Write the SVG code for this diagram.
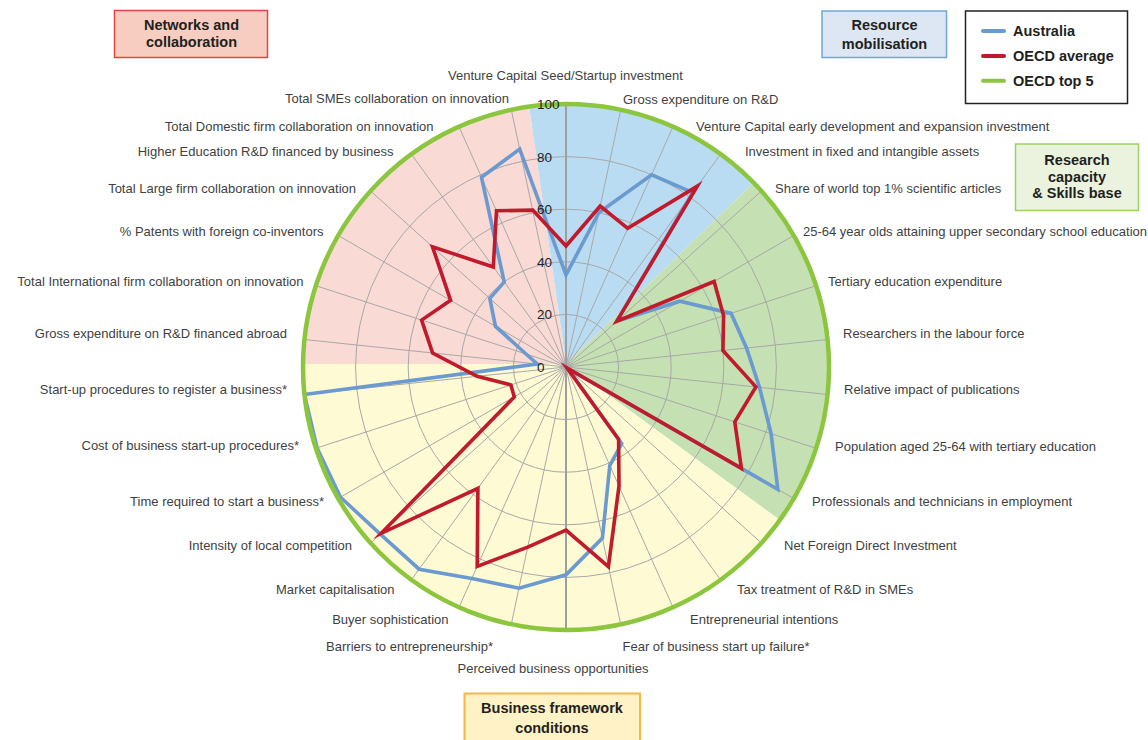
<svg xmlns="http://www.w3.org/2000/svg" width="1148" height="740" viewBox="0 0 1148 740">
<style>
.lbl{font-family:"Liberation Sans",Arial,sans-serif;font-size:13px;fill:#3f3f3f}
.end{text-anchor:end}
.mid{text-anchor:middle}
.num{font-family:"Liberation Sans",Arial,sans-serif;font-size:13.5px;fill:#222}
.box{font-family:"Liberation Sans",Arial,sans-serif;font-size:14.5px;font-weight:bold;fill:#231f20;text-anchor:middle}
.leg{font-family:"Liberation Sans",Arial,sans-serif;font-size:14.5px;font-weight:bold;fill:#231f20}
.grid{fill:none;stroke:#a8a8a8;stroke-width:1}
.ser{fill:none;stroke-width:3.6;stroke-linejoin:miter;stroke-miterlimit:10}
</style>
<defs>
<clipPath id="disc"><circle cx="566" cy="367" r="263"/></clipPath>
</defs>
<rect width="1148" height="740" fill="#ffffff"/>
<g id="sectors" clip-path="url(#disc)">
<path d="M566,364 L523.4,67 A300,300 0 0 1 781.8,155.6 Z" fill="#b9dcf2"/>
<path d="M566,364 L781.8,155.6 A300,300 0 0 1 808.3,540.8 Z" fill="#c5e0b2"/>
<path d="M566,364 L808.3,540.8 A300,300 0 0 1 266,364 Z" fill="#fefad3"/>
<path d="M566,364 L266,364 A300,300 0 0 1 523.4,67 Z" fill="#fadad4"/>
</g>
<g id="grid">
<circle class="grid" cx="566" cy="367" r="52.6"/>
<circle class="grid" cx="566" cy="367" r="105.2"/>
<circle class="grid" cx="566" cy="367" r="157.8"/>
<circle class="grid" cx="566" cy="367" r="210.4"/>
<path class="grid" d="M566,367L620.7,109.8M566,367L673,126.7M566,367L720.6,154.2M566,367L761.4,191M566,367L793.8,235.5M566,367L816.1,285.7M566,367L827.6,339.5M566,367L827.6,394.5M566,367L816.1,448.3M566,367L793.8,498.5M566,367L761.4,543M566,367L720.6,579.8M566,367L673,607.3M566,367L620.7,624.2M566,367L511.3,624.2M566,367L459,607.3M566,367L411.4,579.8M566,367L370.6,543M566,367L338.2,498.5M566,367L315.9,448.3M566,367L304.4,394.5M566,367L304.4,339.5M566,367L315.9,285.7M566,367L338.2,235.5M566,367L370.6,191M566,367L411.4,154.2M566,367L459,126.7M566,367L511.3,109.8"/>
<path d="M566,104V630" stroke="#9e9e9e" stroke-width="2" fill="none"/>
</g>
<g id="connectors">
<polygon id="australia" class="ser" stroke="#6a9ad0" points="566,274.9 598.8,212.7 651.6,174.8 692.8,192.5 616.8,321.2 679.9,301.2 731.1,313.4 746.5,348 759.5,387.3 771.1,433.7 777.8,489.3 568,368.8 621.7,443.6 609.8,465.5 602.4,538.1 566,574.8 519,588.2 471.9,578.4 419.1,569.2 380.3,534.2 340.5,497.2 317.1,447.9 304.4,394.5 537.3,364 526,354 495.4,326.2 489.8,298.4 504.2,281.9 481.5,177.2 519.7,149.1"/>
<polygon id="oecd-average" class="ser" stroke="#c01a2c" points="566,246 600.2,206 627.7,228.4 697.4,186.1 616.8,321.2 714.1,281.5 723.6,315.8 722.9,350.5 755.9,386.9 734.8,421.9 741.4,468.3 567,368 618.6,439.3 619,486.1 608.4,566.6 566,530.1 527.7,547.1 477.2,566.4 477.9,488.3 381.3,533.3 514.3,396.9 510.9,384.9 477.1,376.3 432.6,353 421.6,320.1 450.6,300.3 432.5,246.8 493.3,267 496.5,210.8 532.7,210.1"/>
<circle id="oecd-top5" cx="566" cy="367" r="263" fill="none" stroke="#8cc63f" stroke-width="4.5"/>
</g>
<g id="scale">
<text class="num" x="537" y="108.7">100</text>
<text class="num" x="537" y="161.5">80</text>
<text class="num" x="537" y="214">60</text>
<text class="num" x="537" y="266.5">40</text>
<text class="num" x="537" y="319">20</text>
<text class="num" x="537" y="371.7">0</text>
</g>
<g id="axis-labels">
<text class="lbl mid" x="565.5" y="79.5">Venture Capital Seed/Startup investment</text>
<text class="lbl" x="623" y="104">Gross expenditure on R&amp;D</text>
<text class="lbl" x="696" y="131">Venture Capital early development and expansion investment</text>
<text class="lbl" x="745" y="156">Investment in fixed and intangible assets</text>
<text class="lbl" x="775" y="193">Share of world top 1% scientific articles</text>
<text class="lbl" x="803" y="235.5">25-64 year olds attaining upper secondary school education</text>
<text class="lbl" x="828" y="285.5">Tertiary education expenditure</text>
<text class="lbl" x="843" y="337.5">Researchers in the labour force</text>
<text class="lbl" x="844" y="393.5">Relative impact of publications</text>
<text class="lbl" x="835" y="450.5">Population aged 25-64 with tertiary education</text>
<text class="lbl" x="812" y="505.5">Professionals and technicians in employment</text>
<text class="lbl" x="784" y="549.5">Net Foreign Direct Investment</text>
<text class="lbl" x="737" y="593.5">Tax treatment of R&amp;D in SMEs</text>
<text class="lbl" x="690" y="624">Entrepreneurial intentions</text>
<text class="lbl" x="622.5" y="651">Fear of business start up failure*</text>
<text class="lbl mid" x="553" y="672.8">Perceived business opportunities</text>
<text class="lbl end" x="493" y="651">Barriers to entrepreneurship*</text>
<text class="lbl end" x="448.5" y="624">Buyer sophistication</text>
<text class="lbl end" x="394.5" y="593.5">Market capitalisation</text>
<text class="lbl end" x="352" y="549.5">Intensity of local competition</text>
<text class="lbl end" x="324" y="506">Time required to start a business*</text>
<text class="lbl end" x="299" y="450">Cost of business start-up procedures*</text>
<text class="lbl end" x="287" y="393.5">Start-up procedures to register a business*</text>
<text class="lbl end" x="287" y="337.5">Gross expenditure on R&amp;D financed abroad</text>
<text class="lbl end" x="303.5" y="286">Total International firm collaboration on innovation</text>
<text class="lbl end" x="323.5" y="236">% Patents with foreign co-inventors</text>
<text class="lbl end" x="356" y="193">Total Large firm collaboration on innovation</text>
<text class="lbl end" x="393.5" y="156">Higher Education R&amp;D financed by business</text>
<text class="lbl end" x="433.5" y="131">Total Domestic firm collaboration on innovation</text>
<text class="lbl end" x="509" y="102.5">Total SMEs collaboration on innovation</text>
</g>
<g id="networks-and-collaboration">
<rect x="114.5" y="10.5" width="153" height="47" fill="#f6cdc0" stroke="#e04545" stroke-width="1.5"/>
<text class="box" x="191.5" y="30">Networks and</text>
<text class="box" x="191.5" y="46.5">collaboration</text>
</g>
<g id="resource-mobilisation">
<rect x="822" y="11" width="124.5" height="46.5" fill="#dde7f3" stroke="#72a6da" stroke-width="1.5"/>
<text class="box" x="884.5" y="30">Resource</text>
<text class="box" x="884.5" y="48.5">mobilisation</text>
</g>
<g id="research-capacity">
<rect x="1015.5" y="144" width="123" height="66.5" fill="#ebf3df" stroke="#9ad160" stroke-width="1.5"/>
<text class="box" x="1077" y="165">Research</text>
<text class="box" x="1077" y="181.7">capacity</text>
<text class="box" x="1077" y="198.3">&amp; Skills base</text>
</g>
<g id="business-framework-conditions">
<rect x="464.5" y="693.5" width="175.5" height="50" fill="#fff2c6" stroke="#f6b840" stroke-width="2"/>
<text class="box" x="552" y="713.3">Business framework</text>
<text class="box" x="552" y="732.7">conditions</text>
</g>
<g id="legend">
<rect x="965.5" y="11" width="162" height="92.5" fill="#ffffff" stroke="#222" stroke-width="1.5"/>
<line x1="983" y1="31" x2="1004" y2="31" stroke="#6a9ad0" stroke-width="4" stroke-linecap="round"/>
<line x1="983" y1="56" x2="1004" y2="56" stroke="#c01a2c" stroke-width="4" stroke-linecap="round"/>
<line x1="983" y1="80.7" x2="1004" y2="80.7" stroke="#8cc63f" stroke-width="4" stroke-linecap="round"/>
<text class="leg" x="1013" y="36">Australia</text>
<text class="leg" x="1013" y="61">OECD average</text>
<text class="leg" x="1013" y="85.7">OECD top 5</text>
</g>
</svg>
